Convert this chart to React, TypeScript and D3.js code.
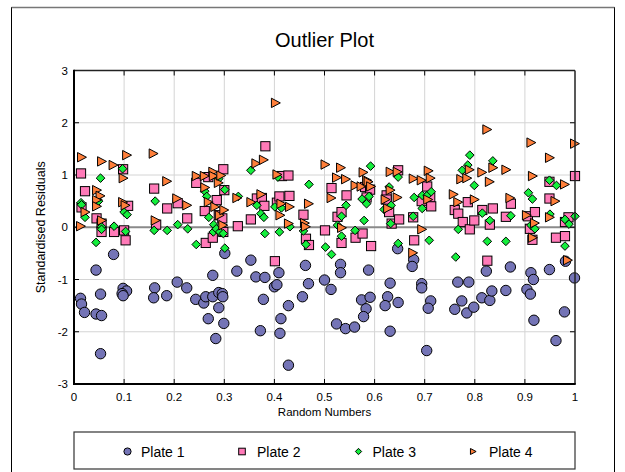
import React from "react";
import * as d3 from "d3";

const plate1: [number, number][] = [
  [0.013,-1.36],[0.015,-1.47],[0.021,-1.63],[0.044,-0.82],[0.044,-1.66],[0.053,-1.28],[0.055,-1.69],[0.053,-2.42],[0.079,-0.52],[0.098,-1.17],[0.105,-1.22],[0.096,-1.27],[0.098,-1.31],[0.161,-1.16],[0.159,-1.35],[0.185,-1.31],[0.206,-1.05],[0.225,-1.16],[0.243,-1.38],[0.259,-1.45],[0.263,-1.33],[0.268,-1.75],[0.277,-0.92],[0.277,-1.33],[0.283,-2.13],[0.289,-1.25],[0.289,-1.54],[0.296,-1.27],[0.297,-1.33],[0.299,-1.84],[0.301,-0.50],[0.325,-0.84],[0.353,-0.63],[0.363,-0.95],[0.378,-1.38],[0.381,-0.96],[0.372,-1.98],[0.400,-1.14],[0.405,-1.10],[0.409,-0.87],[0.413,-1.75],[0.411,-2.03],[0.428,-1.50],[0.428,-2.64],[0.456,-1.33],[0.462,-0.73],[0.468,-1.08],[0.500,-1.01],[0.513,-1.19],[0.532,-0.71],[0.532,-0.87],[0.588,-0.82],[0.524,-1.85],[0.542,-1.94],[0.560,-1.91],[0.574,-1.39],[0.591,-1.34],[0.583,-1.56],[0.578,-1.71],[0.631,-1.07],[0.626,-1.33],[0.621,-1.50],[0.647,-1.44],[0.631,-1.99],[0.646,-0.41],[0.678,-0.62],[0.675,-0.75],[0.694,-1.08],[0.694,-1.16],[0.712,-1.41],[0.707,-1.55],[0.704,-2.36],[0.766,-1.05],[0.788,-1.05],[0.823,-0.84],[0.871,-0.76],[0.774,-1.41],[0.760,-1.57],[0.784,-1.64],[0.798,-1.53],[0.814,-1.35],[0.830,-1.40],[0.834,-1.22],[0.862,-1.21],[0.904,-1.19],[0.911,-1.28],[0.912,-0.87],[0.917,-1.00],[0.918,-1.78],[0.949,-0.81],[0.962,-2.17],[0.979,-1.62],[0.981,-0.65],[0.999,-0.97]
];

const plate2: [number, number][] = [
  [0.014,1.03],[0.022,0.69],[0.015,0.38],[0.045,0.17],[0.055,0.07],[0.055,-0.09],[0.080,-0.09],[0.098,1.11],[0.100,-0.06],[0.103,-0.25],[0.108,0.41],[0.160,0.74],[0.164,0.05],[0.186,0.36],[0.207,0.46],[0.226,0.17],[0.244,0.85],[0.261,0.31],[0.263,-0.30],[0.268,0.96],[0.277,-0.20],[0.285,0.52],[0.289,0.23],[0.296,0.17],[0.298,1.11],[0.298,-0.09],[0.300,0.71],[0.327,0.02],[0.353,0.15],[0.365,0.55],[0.375,0.56],[0.380,0.41],[0.382,1.55],[0.401,-0.65],[0.405,0.47],[0.410,0.59],[0.415,0.98],[0.428,0.99],[0.430,0.60],[0.458,0.24],[0.463,-0.22],[0.469,-0.34],[0.501,-0.06],[0.514,0.75],[0.526,0.20],[0.534,0.29],[0.534,-0.30],[0.544,0.61],[0.562,-0.20],[0.576,-0.12],[0.593,-0.36],[0.581,0.77],[0.591,0.72],[0.584,0.57],[0.647,1.09],[0.624,0.61],[0.624,0.53],[0.629,0.29],[0.634,0.07],[0.649,0.15],[0.677,0.19],[0.679,-0.25],[0.705,0.78],[0.711,0.57],[0.694,0.50],[0.713,0.40],[0.760,0.33],[0.767,0.26],[0.776,0.10],[0.790,-0.04],[0.786,0.48],[0.799,0.13],[0.815,0.33],[0.836,0.36],[0.830,0.05],[0.825,-0.64],[0.862,0.20],[0.872,0.45],[0.906,0.21],[0.920,0.29],[0.910,-0.03],[0.915,-0.24],[0.949,0.87],[0.949,0.55],[0.962,-0.20],[0.980,-0.17],[0.980,0.10],[0.987,0.19],[1.000,0.98]
];

const plate3: [number, number][] = [
  [0.014,0.47],[0.015,0.43],[0.022,0.19],[0.053,0.94],[0.047,0.53],[0.049,0.50],[0.055,0.01],[0.055,-0.04],[0.044,-0.29],[0.080,0.02],[0.097,1.12],[0.100,0.29],[0.106,0.24],[0.103,-0.08],[0.162,0.50],[0.160,-0.06],[0.186,-0.06],[0.207,0.05],[0.227,-0.03],[0.244,-0.33],[0.261,0.69],[0.265,0.59],[0.269,0.19],[0.279,0.05],[0.278,-0.09],[0.284,-0.03],[0.291,-0.09],[0.298,-0.12],[0.301,-0.40],[0.301,0.72],[0.289,0.93],[0.328,0.59],[0.353,1.09],[0.365,0.42],[0.373,0.26],[0.379,0.19],[0.381,-0.12],[0.401,0.39],[0.407,0.96],[0.414,0.37],[0.410,-0.09],[0.431,0.01],[0.458,-0.07],[0.463,-0.33],[0.469,0.82],[0.502,-0.38],[0.514,-0.52],[0.592,1.17],[0.543,0.42],[0.534,0.21],[0.526,0.04],[0.534,-0.17],[0.561,-0.06],[0.575,0.54],[0.584,0.45],[0.589,0.59],[0.579,0.13],[0.647,0.96],[0.629,0.77],[0.633,0.42],[0.619,0.34],[0.632,0.07],[0.647,-0.31],[0.679,0.57],[0.677,0.21],[0.695,0.61],[0.695,0.36],[0.705,0.61],[0.713,0.68],[0.709,-0.25],[0.790,1.38],[0.786,1.19],[0.775,1.09],[0.836,1.27],[0.799,0.80],[0.767,-0.04],[0.762,-0.57],[0.815,0.27],[0.830,0.13],[0.825,-0.27],[0.862,-0.27],[0.872,0.22],[0.907,0.66],[0.915,0.54],[0.912,0.04],[0.920,-0.03],[0.949,0.90],[0.963,0.80],[0.950,0.25],[0.980,0.15],[0.988,0.06],[1.000,0.21],[0.980,-0.36]
];

const plate4: [number, number][] = [
  [0.015,1.34],[0.055,1.26],[0.078,1.19],[0.105,1.38],[0.098,0.94],[0.158,1.41],[0.185,0.88],[0.205,0.55],[0.225,0.42],[0.244,0.98],[0.045,0.71],[0.052,0.60],[0.045,0.52],[0.045,0.40],[0.022,0.29],[0.013,0.02],[0.055,0.13],[0.097,0.48],[0.102,0.42],[0.162,0.13],[0.260,0.98],[0.261,0.76],[0.268,0.48],[0.277,1.06],[0.278,0.98],[0.288,0.85],[0.293,0.99],[0.281,0.39],[0.290,0.23],[0.299,0.33],[0.297,0.04],[0.325,0.56],[0.353,0.48],[0.363,1.22],[0.378,1.29],[0.373,0.63],[0.402,2.38],[0.405,1.01],[0.413,0.45],[0.411,0.23],[0.430,0.39],[0.428,0.07],[0.460,0.08],[0.462,0.01],[0.468,0.45],[0.501,1.20],[0.532,1.14],[0.524,0.95],[0.542,0.92],[0.513,0.56],[0.561,0.80],[0.577,1.05],[0.573,0.78],[0.584,0.90],[0.587,0.87],[0.592,0.78],[0.534,-0.01],[0.631,1.06],[0.645,1.06],[0.631,0.71],[0.621,0.53],[0.645,0.57],[0.626,0.36],[0.677,0.93],[0.693,0.90],[0.707,1.08],[0.711,0.94],[0.706,0.53],[0.694,-0.04],[0.676,-0.49],[0.824,1.87],[0.912,1.62],[0.999,1.60],[0.949,1.33],[0.836,1.14],[0.862,1.10],[0.814,1.05],[0.789,1.10],[0.772,0.92],[0.784,0.94],[0.829,0.87],[0.915,0.98],[0.979,0.82],[0.757,0.63],[0.766,0.48],[0.799,0.53],[0.870,0.56],[0.960,0.50],[0.903,0.23],[0.919,0.08],[0.949,0.19],[0.915,-0.20],[0.985,-0.63]
];

const seriesNames = ["Plate 1", "Plate 2", "Plate 3", "Plate 4"];
const seriesColors = ["#7474b6", "#ff7ab8", "#14ee3c", "#ff7f3a"];
const xTicks = [0, 0.1, 0.2, 0.3, 0.4, 0.5, 0.6, 0.7, 0.8, 0.9, 1];
const yTicks = [-3, -2, -1, 0, 1, 2, 3];
const title = "Outlier Plot";
const xLabel = "Random Numbers";
const yLabel = "Standardised Residuals";

const W = 625, H = 472;
const L = 74, R = 575, T = 70.5, B = 384;
const FONT = "'Liberation Sans', Arial, sans-serif";

function Marker({ kind, x, y, color, s }: { kind: number; x: number; y: number; color: string; s: number }) {
  const common = { fill: color, stroke: "#000", strokeWidth: 1 };
  if (kind === 0) return <circle cx={x} cy={y} r={s} {...common} />;
  if (kind === 1) return <rect x={x - s} y={y - s} width={2 * s} height={2 * s} {...common} />;
  if (kind === 2) {
    const d = s * 1.05;
    return <path d={`M${x},${y - d}L${x + d},${y}L${x},${y + d}L${x - d},${y}Z`} {...common} />;
  }
  return <path d={`M${x - s * 0.85},${y - s}L${x + s * 1.05},${y}L${x - s * 0.85},${y + s}Z`} {...common} />;
}

export default function App() {
  const x = d3.scaleLinear().domain([0, 1]).range([L, R]);
  const y = d3.scaleLinear().domain([-3, 3]).range([B, T]);
  const all = [plate1, plate2, plate3, plate4];
  const sizes = [5.2, 4.6, 4.1, 4.7];
  const legendX = [127.5, 242, 358.5, 473];
  const legendTextX = [141, 257, 372.5, 489];
  const legendY = 452;
  return (
    <svg width={W} height={H} style={{ position: "absolute", left: 0, top: 0, background: "#fff" }} fontFamily={FONT}>
      <rect x={11.5} y={7.5} width={603} height={480} fill="#fff" stroke="#000" strokeWidth={1} />
      <line x1={11.5} x2={614.5} y1={7.5} y2={7.5} stroke="#777" strokeWidth={1.5} />
      <text x={(L + R) / 2} y={47} textAnchor="middle" fontSize={20}>{title}</text>
      {xTicks.slice(1, -1).map((t) => (
        <line key={"gx" + t} x1={x(t)} x2={x(t)} y1={T} y2={B} stroke="#d4d4d4" strokeWidth={1} />
      ))}
      {yTicks.slice(1, -1).filter((t) => t !== 0).map((t) => (
        <line key={"gy" + t} x1={L} x2={R} y1={y(t)} y2={y(t)} stroke="#d4d4d4" strokeWidth={1} />
      ))}
      <line x1={L} x2={R} y1={y(0)} y2={y(0)} stroke="#8a8a8a" strokeWidth={2} />
      {xTicks.slice(1, -1).map((t) => (
        <g key={"tx" + t}>
          <line x1={x(t)} x2={x(t)} y1={T} y2={T + 5} stroke="#000" strokeWidth={1} />
          <line x1={x(t)} x2={x(t)} y1={B} y2={B - 5} stroke="#000" strokeWidth={1} />
        </g>
      ))}
      {yTicks.slice(1, -1).map((t) => (
        <g key={"ty" + t}>
          <line x1={L} x2={L + 5} y1={y(t)} y2={y(t)} stroke="#000" strokeWidth={1} />
          <line x1={R} x2={R - 5} y1={y(t)} y2={y(t)} stroke="#000" strokeWidth={1} />
        </g>
      ))}
      {all.map((data, k) => (
        <g key={"s" + k}>
          {data.map((d, i) => (
            <Marker key={i} kind={k} x={x(d[0])} y={y(d[1])} color={seriesColors[k]} s={sizes[k]} />
          ))}
        </g>
      ))}
      <line x1={L} x2={R} y1={T} y2={T} stroke="#222" strokeWidth={1.5} />
      <line x1={R} x2={R} y1={T} y2={B} stroke="#222" strokeWidth={1.5} />
      <line x1={L} x2={L} y1={T - 0.75} y2={B + 1} stroke="#000" strokeWidth={2} />
      <line x1={L - 1} x2={R + 0.75} y1={B} y2={B} stroke="#000" strokeWidth={2} />
      {xTicks.map((t) => (
        <text key={"lx" + t} x={x(t)} y={B + 17} textAnchor="middle" fontSize={11.5}>{String(t)}</text>
      ))}
      {yTicks.map((t) => (
        <text key={"ly" + t} x={L - 6} y={y(t) + 4} textAnchor="end" fontSize={11.5}>{String(t)}</text>
      ))}
      <text x={(L + R) / 2} y={B + 32} textAnchor="middle" fontSize={11.5}>{xLabel}</text>
      <text transform={`translate(45,${(T + B) / 2}) rotate(-90)`} textAnchor="middle" fontSize={12.5}>{yLabel}</text>
      <rect x={L} y={432} width={R - L} height={37} fill="#fff" stroke="#333" strokeWidth={1.2} />
      {seriesNames.map((n, k) => (
        <g key={"lg" + k}>
          <Marker kind={k} x={legendX[k]} y={legendY - 0.5} color={seriesColors[k]} s={k === 0 ? 3.6 : k === 1 ? 3.3 : 3} />
          <text x={legendTextX[k]} y={legendY + 5} fontSize={14}>{n}</text>
        </g>
      ))}
    </svg>
  );
}
